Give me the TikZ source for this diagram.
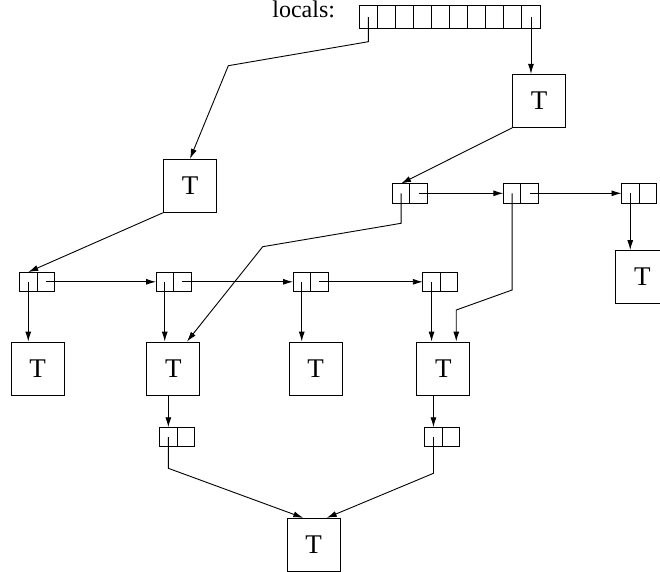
\documentclass[tikz,border=0pt]{standalone}
\usepackage{fontspec}
\setmainfont{Liberation Serif}
\usetikzlibrary{arrows.meta,calc}
\begin{document}
\begin{tikzpicture}[x=1pt,y=-1pt,
  line width=0.9pt,
  tbox/.style={draw, minimum width=53pt, minimum height=53pt, inner sep=0pt,
    font=\fontsize{27}{29}\selectfont},
  cell/.style={draw, minimum width=17.5pt, minimum height=19.5pt, inner sep=0pt, outer sep=0pt},
  slot/.style={draw, minimum width=18.07pt, minimum height=22.6pt, inner sep=0pt, outer sep=0pt},
  ptr/.style={-{Latex[length=10pt,width=6pt]}},
]
\useasboundingbox (0,0) rectangle (660,571);

% list cell: pointer half (#1p) and next half (#1n), left edge x=#2, centre y=#3
\newcommand\listcell[3]{%
  \node[cell] (#1p) at ({#2+8.75},#3) {};
  \node[cell, anchor=west] (#1n) at (#1p.east) {};}

% the locals array
\node[anchor=base east, inner sep=0pt, font=\fontsize{24}{26}\selectfont] (lbl) at (335.5,17.5) {locals:};
\foreach \i in {1,...,10}
  \node[slot] (loc\i) at ({359.3+18.07*(\i-0.5)},17) {};

% T objects
\node[tbox] (T1) at (539.2,100.8) {T};
\node[tbox] (T2) at (190,185.8) {T};
\node[tbox] (T3) at (642.3,277) {T};
\node[tbox] (T4) at (37.7,368.5) {T};
\node[tbox] (T5) at (173.3,368.5) {T};
\node[tbox] (T6) at (315.7,368.5) {T};
\node[tbox] (T7) at (443.3,368.5) {T};
\node[tbox] (T8) at (313.7,544.8) {T};

% list cells
\listcell{A1}{392.3}{193.3}
\listcell{A2}{503.3}{193.3}
\listcell{A3}{621.5}{193.3}
\listcell{B1}{19.5}{281.8}
\listcell{B2}{156}{281.8}
\listcell{B3}{293}{281.8}
\listcell{B4}{422.8}{281.8}
\listcell{C1}{159.6}{437}
\listcell{C2}{424.7}{437}

% bend points
\coordinate (k1) at (368.4,41.7);
\coordinate (k2) at (228.3,65.7);
\coordinate (k3) at (400.7,223.3);
\coordinate (k4) at (262.7,246.7);
\coordinate (t5in) at ($(T5.north east)+(-13.3,0)$);
\coordinate (t7in) at ($(T7.north east)+(-14,0)$);
\coordinate (k5) at (512.3,290);
\coordinate (k6) at (t7in |- 0,310);
\coordinate (t8a) at ($(T8.north)+(-10.4,0)$);
\coordinate (t8b) at ($(T8.north)+(13,0)$);

% connectors from the locals
\draw[ptr] (loc1.center) -- (k1) -- (k2) -- (T2.north);
\draw[ptr] (loc10.center) -- (loc10.center |- T1.north);

% upper list
\draw[ptr] (T1.south west) -- (A1p.north);
\draw[ptr] (A1n.center) -- (A2p.west);
\draw[ptr] (A2n.center) -- (A3p.west);
\draw[ptr] (A3p.center) -- (A3p.center |- T3.north);
\draw[ptr] (A1p.center) -- (A1p.center |- k3) -- (k4) -- (t5in);
\draw[ptr] (A2p.center) -- (A2p.center |- k5) -- (k6) -- (t7in);

% lower list
\draw[ptr] (T2.south west) -- (B1p.north);
\draw[ptr] (B1n.center) -- (B2p.west);
\draw[ptr] (B2n.center) -- (B3p.west);
\draw[ptr] (B3n.center) -- (B4p.west);
\draw[ptr] (B1p.center) -- (B1p.center |- T4.north);
\draw[ptr] (B2p.center) -- (B2p.center |- T5.north);
\draw[ptr] (B3p.center) -- (B3p.center |- T6.north);
\draw[ptr] (B4p.center) -- (B4p.center |- T7.north);

% bottom cells
\draw[ptr] (C1p.north |- T5.south) -- (C1p.north);
\draw[ptr] (C2p.north |- T7.south) -- (C2p.north);
\draw[ptr] (C1p.center) -- ++(0,31.3) -- (t8a);
\draw[ptr] (C2p.center) -- ++(0,36.3) -- (t8b);
\end{tikzpicture}
\end{document}
